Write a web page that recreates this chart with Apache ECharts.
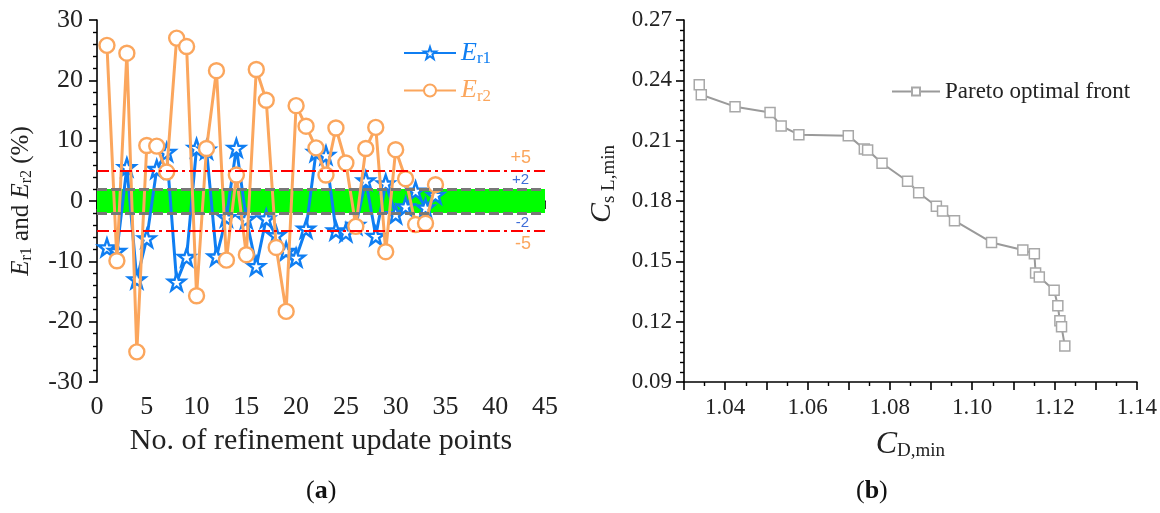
<!DOCTYPE html>
<html>
<head>
<meta charset="utf-8">
<script src="https://cdn.jsdelivr.net/npm/echarts@6/dist/echarts.min.js"></script>
<style>
  html, body { margin: 0; padding: 0; background: #fff; }
  #chart { width: 1160px; height: 513px; }
</style>
</head>
<body>
<div id="chart"></div>
<script>
// (a) relative errors per refinement update point
const updatePoints = [1,2,3,4,5,6,7,8,9,10,11,12,13,14,15,16,17,18,19,20,21,22,23,24,25,26,27,28,29,30,31,32,33,34];
const er1 = [-7.7,-8.3,5.6,-13.0,-6.2,5.3,8.1,-13.4,-9.3,8.8,8.5,-9.2,-2.7,8.8,-3.0,-10.8,-2.9,-5.7,-8.3,-9.4,-4.6,8.1,7.6,-4.9,-5.2,-4.0,3.4,-5.8,2.9,-2.2,-0.9,1.7,-1.1,1.0];
const er2 = [25.8,-9.9,24.5,-25.0,9.2,9.1,4.8,27.0,25.6,-15.7,8.7,21.6,-9.8,4.3,-8.9,21.8,16.7,-7.7,-18.3,15.8,12.4,8.8,4.3,12.1,6.3,-4.2,8.7,12.2,-8.4,8.5,3.7,-3.9,-3.7,2.7];
const innerBand = [-2, 2];
const outerBand = [-5, 5];
const errTicks = { min: -30, max: 30, step: 10 };
const pointTicks = { min: 0, max: 45, step: 5 };

// (b) Pareto optimal front
const cdMin = [1.0337,1.0342,1.0424,1.0509,1.0536,1.0579,1.0699,1.0738,1.0746,1.0781,1.0843,1.0870,1.0913,1.0928,1.0957,1.1047,1.1123,1.1151,1.1154,1.1163,1.1199,1.1208,1.1213,1.1217,1.1225];
const clMin = [0.2378,0.2328,0.2269,0.2240,0.2173,0.2130,0.2125,0.2059,0.2054,0.1988,0.1898,0.1841,0.1774,0.1750,0.1702,0.1594,0.1556,0.1538,0.1442,0.1422,0.1356,0.1279,0.1204,0.1175,0.1079];
const cdTicks = { min: 1.03, max: 1.14, step: 0.01 };
const clTicks = { min: 0.09, max: 0.27, step: 0.03 };

const FONT = 'Liberation Serif';
const BLUE = '#0f7ef2';
const ORANGE = '#fba65d';
const GREY = '#9a9a9a';
const STAR = 'path://M50,2 L61.5,36 L97,36 L68.5,57.5 L79,92 L50,71 L21,92 L31.5,57.5 L3,36 L38.5,36 Z';

const axisLine = { lineStyle: { color: '#000', width: 1.6 } };
const axisTick = { length: 8, lineStyle: { color: '#000', width: 1.6 } };
const minorTick = (n) => ({ show: true, splitNumber: n, length: 4, lineStyle: { color: '#000', width: 1.4 } });
const tickLabel = (size, margin) => ({ fontFamily: FONT, fontSize: size, color: '#222', margin: margin });

const sub = (size, color, subSize) => ({
  e: { fontFamily: FONT, fontStyle: 'italic', fontSize: size, color: color },
  s: { fontFamily: FONT, fontSize: subSize || Math.round(size * 0.62), color: color, padding: [Math.round(size * 0.45), 0, 0, 0] },
  t: { fontFamily: FONT, fontSize: size, color: color }
});

const pairs = (xs, ys) => xs.map((x, i) => [x, ys[i]]);

const chart = echarts.init(document.getElementById('chart'), null, { renderer: 'canvas' });

chart.setOption({
  animation: false,
  backgroundColor: '#fff',
  grid: [
    { left: 97, right: 615, top: 20, bottom: 131 },
    { left: 684, right: 21, top: 20, bottom: 131 }
  ],
  xAxis: [
    {
      gridIndex: 0, type: 'value',
      min: pointTicks.min, max: pointTicks.max, interval: pointTicks.step,
      axisLine, axisTick, minorTick: minorTick(5), splitLine: { show: false },
      axisLabel: tickLabel(26, 12),
      name: 'No. of refinement update points', nameLocation: 'middle', nameGap: 44,
      nameTextStyle: { fontFamily: FONT, fontSize: 30, color: '#222', verticalAlign: 'top' }
    },
    {
      gridIndex: 1, type: 'value',
      min: cdTicks.min, max: cdTicks.max, interval: cdTicks.step,
      axisLine, axisTick, minorTick: minorTick(2), splitLine: { show: false },
      axisLabel: Object.assign(tickLabel(23, 14), {
        formatter: (v) => (Math.round(v * 100) % 2 === 0 ? v.toFixed(2) : '')
      }),
      name: '{e|C}{s|D,min}', nameLocation: 'middle', nameGap: 46,
      nameTextStyle: { verticalAlign: 'top', rich: sub(32, '#222', 19) }
    }
  ],
  yAxis: [
    {
      gridIndex: 0, type: 'value',
      min: errTicks.min, max: errTicks.max, interval: errTicks.step,
      axisLine, axisTick, minorTick: minorTick(5), splitLine: { show: false },
      axisLabel: tickLabel(26, 14),
      name: '{e|E}{s|r1}{t| and }{e|E}{s|r2}{t| (%)}', nameLocation: 'middle', nameGap: 62, nameRotate: 90,
      nameTextStyle: { rich: sub(25, '#222') }
    },
    {
      gridIndex: 1, type: 'value',
      min: clTicks.min, max: clTicks.max, interval: clTicks.step,
      axisLine, axisTick, minorTick: minorTick(6), splitLine: { show: false },
      axisLabel: Object.assign(tickLabel(23, 12), { formatter: (v) => v.toFixed(2) }),
      name: '{e|C}{s|s L,min}', nameLocation: 'middle', nameGap: 65, nameRotate: 90,
      nameTextStyle: { rich: sub(30, '#222', 19), padding: [0, 0, 0, 34] }
    }
  ],
  legend: [
    {
      data: [
        { name: 'Er1', textStyle: { rich: sub(26, BLUE, 17) } },
        { name: 'Er2', textStyle: { rich: sub(26, ORANGE, 17) } }
      ],
      orient: 'vertical', left: 398, top: 35, itemWidth: 52, itemHeight: 15, itemGap: 10,
      formatter: (n) => (n === 'Er1' ? '{e|E}{s|r1}' : '{e|E}{s|r2}')
    },
    {
      data: ['Pareto optimal front'],
      left: 886, top: 75, itemWidth: 48, itemHeight: 10, itemGap: 8,
      textStyle: { fontFamily: FONT, fontSize: 23, color: '#222' }
    }
  ],
  series: [
    {
      // tolerance bands: green ±2 % zone, grey ±2 % limits, red ±5 % limits
      name: 'bands', type: 'line', xAxisIndex: 0, yAxisIndex: 0, data: [], z: 1, silent: true,
      markArea: {
        silent: true,
        itemStyle: { color: '#00ff00', opacity: 1 },
        data: [[{ yAxis: innerBand[0] }, { yAxis: innerBand[1] }]]
      },
      markLine: {
        silent: true, symbol: 'none',
        data: [
          { yAxis: outerBand[1], lineStyle: { color: '#ff0000', width: 2, type: [12, 4, 3, 4] },
            label: { formatter: '+5', position: 'insideEndTop', color: ORANGE, fontSize: 18, distance: [14, 4] } },
          { yAxis: innerBand[1], lineStyle: { color: '#777', width: 3, type: [10, 4] },
            label: { formatter: '+2', position: 'insideEndTop', color: '#3f6ed8', fontSize: 15, distance: [16, 2] } },
          { yAxis: innerBand[0], lineStyle: { color: '#777', width: 3, type: [10, 4] },
            label: { formatter: '-2', position: 'insideEndBottom', color: '#3f6ed8', fontSize: 15, distance: [16, 2] } },
          { yAxis: outerBand[0], lineStyle: { color: '#ff0000', width: 2, type: [12, 4, 3, 4] },
            label: { formatter: '-5', position: 'insideEndBottom', color: ORANGE, fontSize: 18, distance: [14, 4] } }
        ]
      }
    },
    {
      name: 'Er1', type: 'line', xAxisIndex: 0, yAxisIndex: 0, z: 3,
      data: pairs(updatePoints, er1),
      symbol: STAR, symbolSize: 17,
      lineStyle: { color: BLUE, width: 3 },
      itemStyle: { color: '#fff', borderColor: BLUE, borderWidth: 2.4 }
    },
    {
      name: 'Er2', type: 'line', xAxisIndex: 0, yAxisIndex: 0, z: 4,
      data: pairs(updatePoints, er2),
      symbol: 'circle', symbolSize: 15,
      lineStyle: { color: ORANGE, width: 3 },
      itemStyle: { color: '#fff', borderColor: ORANGE, borderWidth: 2.4 }
    },
    {
      name: 'Pareto optimal front', type: 'line', xAxisIndex: 1, yAxisIndex: 1, z: 3,
      data: pairs(cdMin, clMin),
      symbol: 'rect', symbolSize: 10,
      lineStyle: { color: GREY, width: 2 },
      itemStyle: { color: '#fff', borderColor: '#a8a8a8', borderWidth: 1.5 }
    }
  ],
  graphic: [
    { type: 'text', left: 306, top: 478,
      style: { text: '({b|a})', fill: '#111', font: '26px "Liberation Serif"',
        rich: { b: { fontFamily: FONT, fontSize: 26, fontWeight: 'bold', fill: '#111' } } } },
    { type: 'text', left: 856, top: 478,
      style: { text: '({b|b})', fill: '#111', font: '26px "Liberation Serif"',
        rich: { b: { fontFamily: FONT, fontSize: 26, fontWeight: 'bold', fill: '#111' } } } }
  ]
});
</script>
</body>
</html>
